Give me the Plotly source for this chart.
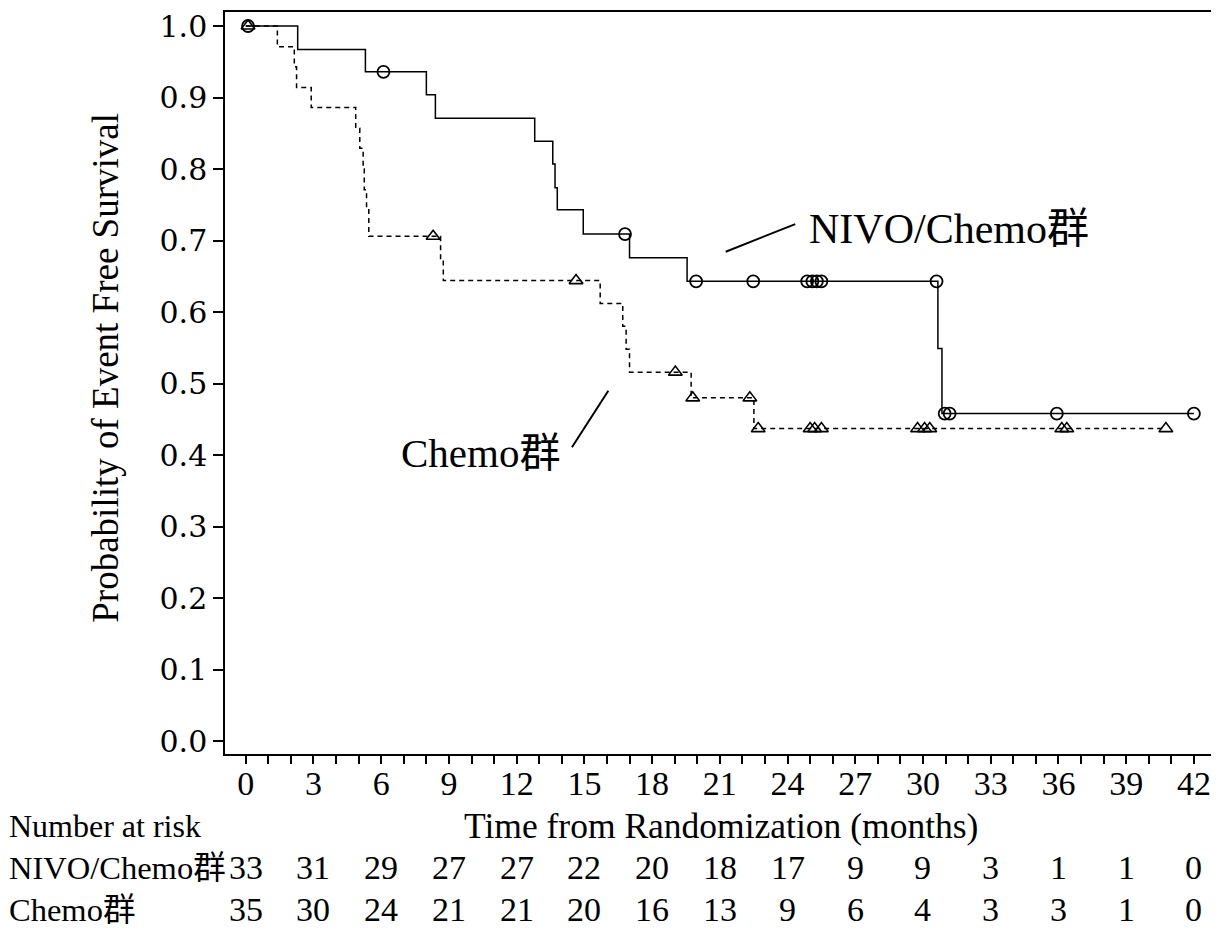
import numpy as np
import plotly.graph_objects as go

# ---------------- data ----------------
nivo_event_times = [2.3, 5.3, 8.0, 8.4, 12.8, 13.6, 13.7, 13.8, 14.95, 17.0, 19.55, 30.66, 30.84]
nivo_event_surv = [0.967, 0.936, 0.904, 0.871, 0.839, 0.807, 0.774, 0.743, 0.709, 0.676, 0.643, 0.549, 0.458]
nivo_censor_times = [0.1, 6.1, 16.8, 19.95, 22.48, 24.87, 25.1, 25.3, 25.5, 30.6, 30.96, 31.18, 35.93, 42.0]

chemo_event_times = [1.4, 2.15, 2.25, 2.9, 4.87, 5.05, 5.2, 5.25, 5.35, 5.45, 8.63, 8.75,
                     15.7, 16.7, 16.85, 17.0, 19.73, 22.51]
chemo_event_surv = [0.971, 0.943, 0.914, 0.886, 0.857, 0.829, 0.800, 0.771, 0.743, 0.706, 0.675, 0.644,
                    0.612, 0.580, 0.548, 0.516, 0.480, 0.437]
chemo_censor_times = [0.1, 8.3, 14.63, 19.03, 19.8, 22.33, 22.7, 25.0, 25.2, 25.5, 29.76, 30.07, 30.3,
                      36.15, 36.37, 40.76]

risk_times = [0, 3, 6, 9, 12, 15, 18, 21, 24, 27, 30, 33, 36, 39, 42]
nivo_at_risk = [33, 31, 29, 27, 27, 22, 20, 18, 17, 9, 9, 3, 1, 1, 0]
chemo_at_risk = [35, 30, 24, 21, 21, 20, 16, 13, 9, 6, 4, 3, 3, 1, 0]

y_ticks = [0.0, 0.1, 0.2, 0.3, 0.4, 0.5, 0.6, 0.7, 0.8, 0.9, 1.0]
x_ticks = [0, 3, 6, 9, 12, 15, 18, 21, 24, 27, 30, 33, 36, 39, 42]

nivo_name = "NIVO/Chemo群"
chemo_name = "Chemo群"


def step_curve(times, surv, end):
    xs = [0.0] + list(times) + [end]
    ys = [1.0] + list(surv) + [surv[-1]]
    return xs, ys


def surv_at(times, surv, t):
    idx = np.searchsorted(np.array(times), t, side="right")
    return 1.0 if idx == 0 else surv[idx - 1]


SERIF = "Liberation Serif, Times New Roman, Noto Sans CJK JP, serif"

fig = go.Figure()

nx, ny = step_curve(nivo_event_times, nivo_event_surv, max(nivo_censor_times))
cx, cy = step_curve(chemo_event_times, chemo_event_surv, max(chemo_censor_times))

fig.add_trace(go.Scatter(x=nx, y=ny, mode="lines", line=dict(shape="hv", color="black", width=1.5),
                         showlegend=False, hoverinfo="skip"))
fig.add_trace(go.Scatter(x=cx, y=cy, mode="lines",
                         line=dict(shape="hv", color="black", width=1.5, dash="5px,4px"),
                         showlegend=False, hoverinfo="skip"))

fig.add_trace(go.Scatter(
    x=nivo_censor_times,
    y=[surv_at(nivo_event_times, nivo_event_surv, t) for t in nivo_censor_times],
    mode="markers",
    marker=dict(symbol="circle-open", size=12, color="black", line=dict(width=1.8, color="black")),
    showlegend=False))
fig.add_trace(go.Scatter(
    x=chemo_censor_times,
    y=[surv_at(chemo_event_times, chemo_event_surv, t) for t in chemo_censor_times],
    mode="markers",
    marker=dict(symbol="triangle-up-open", size=12, color="black", line=dict(width=1.6, color="black")),
    showlegend=False))

annotations = []
# group labels on the plot
annotations.append(dict(x=24.85, y=0.7165, xref="x", yref="y", text=nivo_name, showarrow=False,
                        xanchor="left", yanchor="middle", font=dict(family=SERIF, size=42, color="black")))
annotations.append(dict(x=6.8, y=0.4036, xref="x", yref="y", text=chemo_name, showarrow=False,
                        xanchor="left", yanchor="middle", font=dict(family=SERIF, size=41, color="black")))

# y-axis title
annotations.append(dict(x=-0.1208, y=0.521, xref="paper", yref="paper", text="Probability of Event Free Survival",
                        textangle=-90, showarrow=False, xanchor="center", yanchor="middle",
                        font=dict(family=SERIF, size=37, color="black")))
# x-axis title
annotations.append(dict(x=0.5, y=-0.0969, xref="paper", yref="paper", text="Time from Randomization (months)",
                        showarrow=False, xanchor="center", yanchor="middle",
                        font=dict(family=SERIF, size=35.5, color="black")))
# risk table
LEFT = -0.2195
annotations.append(dict(x=LEFT, y=-0.0969, xref="paper", yref="paper", text="Number at risk",
                        showarrow=False, xanchor="left", yanchor="middle",
                        font=dict(family=SERIF, size=32, color="black")))
row_y = {nivo_name: -0.1534, chemo_name: -0.21}
for name, vals in ((nivo_name, nivo_at_risk), (chemo_name, chemo_at_risk)):
    annotations.append(dict(x=LEFT, y=row_y[name], xref="paper", yref="paper", text=name,
                            showarrow=False, xanchor="left", yanchor="middle",
                            font=dict(family=SERIF, size=32.5, color="black")))
    for t, v in zip(risk_times, vals):
        annotations.append(dict(x=t, y=row_y[name], xref="x", yref="paper", text=str(v),
                                showarrow=False, xanchor="center", yanchor="middle",
                                font=dict(family=SERIF, size=34, color="black")))

shapes = [
    dict(type="line", xref="x", yref="y", x0=21.26, y0=0.6844, x1=24.34, y1=0.723,
         line=dict(color="black", width=2)),
    dict(type="line", xref="x", yref="y", x0=14.45, y0=0.411, x1=16.06, y1=0.490,
         line=dict(color="black", width=2)),
]

# the page places the figure 8px from the top-left corner of the window
fig.update_layout(
    width=1211, height=923,
    margin=dict(l=217, r=1, t=3, b=177),
    paper_bgcolor="white", plot_bgcolor="white",
    showlegend=False,
    annotations=annotations,
    shapes=shapes,
    xaxis=dict(
        range=[-0.92, 42.98], tickmode="array", tickvals=x_ticks, ticktext=[str(v) for v in x_ticks],
        ticks="outside", ticklen=8, tickwidth=1.5, tickcolor="black", ticklabelstandoff=-10,
        ticklabeloverflow="allow",
        minor=dict(dtick=1, tick0=0, ticks="outside", ticklen=8, tickwidth=1.5, tickcolor="black", showgrid=False),
        showline=True, linecolor="black", linewidth=1.5, mirror=True,
        showgrid=False, zeroline=False,
        tickfont=dict(family=SERIF, size=34, color="black"),
    ),
    yaxis=dict(
        range=[-0.018, 1.0196], tickmode="array", tickvals=y_ticks,
        ticktext=[f"{v:.1f}" for v in y_ticks],
        ticks="outside", ticklen=10, tickwidth=1.5, tickcolor="black",
        ticklabeloverflow="allow",
        showline=True, linecolor="black", linewidth=1.5, mirror=True,
        showgrid=False, zeroline=False,
        tickfont=dict(family="DejaVu Serif, serif", size=30, color="black"),
    ),
)

fig.write_html("out.html")
